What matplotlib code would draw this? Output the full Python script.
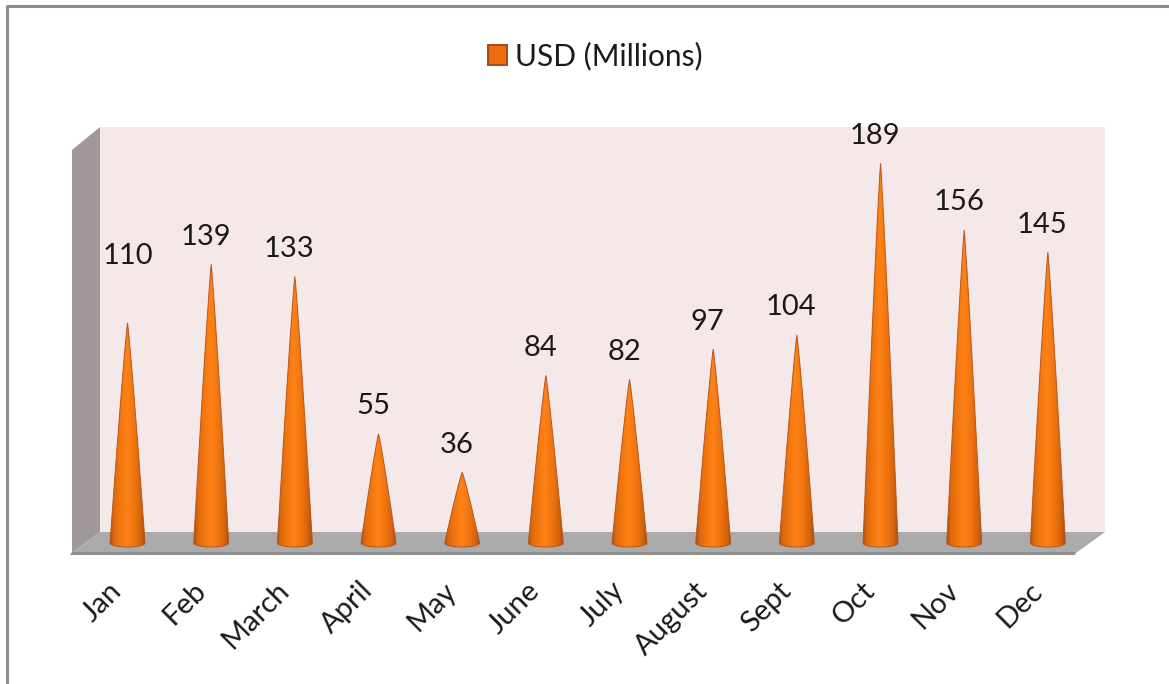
import numpy as np
import matplotlib
matplotlib.use("Agg")
import matplotlib.pyplot as plt
from matplotlib.colors import LinearSegmentedColormap
from matplotlib.patches import Polygon, Patch
from matplotlib.transforms import ScaledTranslation

months = ["Jan", "Feb", "March", "April", "May", "June", "July", "August", "Sept", "Oct", "Nov", "Dec"]
usd_millions = [110, 139, 133, 55, 36, 84, 82, 97, 104, 189, 156, 145]
series_name = "USD (Millions)"

W, H = 1169, 684
plt.rcParams["font.family"] = ["Lato", "DejaVu Sans"]
fig = plt.figure(figsize=(W / 100, H / 100), dpi=100, facecolor="white")

def px(points):
    return [(x / W, 1 - y / H) for x, y in points]

def add_shape(points, color, z=0):
    fig.add_artist(Polygon(px(points), closed=True, transform=fig.transFigure,
                           facecolor=color, edgecolor="none", zorder=z))

# outer frame, walls and floor of the 3-D look
fig.add_artist(plt.Line2D([7 / W, 7 / W, 1], [0, 1 - 6 / H, 1 - 6 / H], transform=fig.transFigure,
                          color="#8c8c8c", lw=2.2, zorder=0))
add_shape([(100, 127), (1105, 127), (1105, 532), (100, 532)], "#F4E9E8")
add_shape([(72, 150), (100, 127), (100, 532), (72, 553)], "#A19999")
add_shape([(72, 553), (100, 532), (1105, 532), (1076, 553)], "#ABABAB")
add_shape([(70, 555), (72, 552), (1076, 552), (1075, 555)], "#8E8E8E")

# axes: value 0 sits at y=545 px; 2.02 px per unit; axes run a little below zero for the cone bases
scale = 2.02
left, right, bottom_px, top_px = 85.7, 1089.7, 555, 100
ax = fig.add_axes([left / W, 1 - bottom_px / H, (right - left) / W, (bottom_px - top_px) / H])
ax.patch.set_alpha(0)
for s in ax.spines.values():
    s.set_visible(False)

cone_cmap = LinearSegmentedColormap.from_list(
    "cone", [(0, "#A84C12"), (0.1, "#DC680E"), (0.25, "#EE740F"), (0.48, "#FF8216"),
             (0.72, "#EE730F"), (0.9, "#D2620D"), (1, "#A84C12")])
gradient = np.linspace(0, 1, 128).reshape(1, -1)
half_w = 17.5 / 83.67
rim = 2.0   # value units: vertical radius of the elliptical base
lift = 1.0  # value units: height of the ellipse centre over zero
t = np.linspace(0, np.pi, 40)
h = np.linspace(0, 1, 40)

for i, v in enumerate(usd_millions):
    widths = half_w * (1 - h) ** 0.9
    ys = lift + (v - lift) * h
    outline = np.vstack([
        np.column_stack([i - widths, ys]),
        np.column_stack([i + widths[::-1], ys[::-1]]),
        np.column_stack([i + half_w * np.cos(t), lift - rim * np.sin(t)]),
    ])
    poly = Polygon(outline, closed=True, transform=ax.transData, facecolor="none",
                   edgecolor="#B9561C", lw=0.7, zorder=3)
    ax.add_patch(poly)
    im = ax.imshow(gradient, extent=(i - half_w, i + half_w, lift - rim, v), aspect="auto",
                   cmap=cone_cmap, zorder=2, interpolation="bilinear")
    im.set_clip_path(poly)
    offset = (0, 67) if i == 0 else (-5.5, 27.5)
    ax.annotate(str(v), (i, v), xytext=offset, textcoords="offset pixels",
                ha="center", va="center", fontsize=21, color="#1a1a1a")

ax.set_xlim(-0.5, len(months) - 0.5)
ax.set_ylim(-(bottom_px - 545) / scale, (545 - top_px) / scale)
ax.set_yticks([])
ax.set_xticks(range(len(months)))
ax.set_xticklabels(months, rotation=45, ha="right", rotation_mode="anchor",
                   fontsize=21, color="#1a1a1a")
ax.tick_params(axis="x", length=0, pad=16)
shift = ScaledTranslation(-19 / 100, 0, fig.dpi_scale_trans)
for lab in ax.get_xticklabels():
    lab.set_transform(lab.get_transform() + shift)

handle = Patch(facecolor="#EE6C0C", edgecolor="#A8481A", lw=1.4)
fig.legend([handle], [series_name], loc="center", bbox_to_anchor=(595.5 / W, 1 - 56 / H),
           frameon=False, fontsize=21.5, handlelength=0.64, handleheight=0.64, handletextpad=0.27,
           labelcolor="#1a1a1a")

fig.savefig("out.png", dpi=100, facecolor="white")
